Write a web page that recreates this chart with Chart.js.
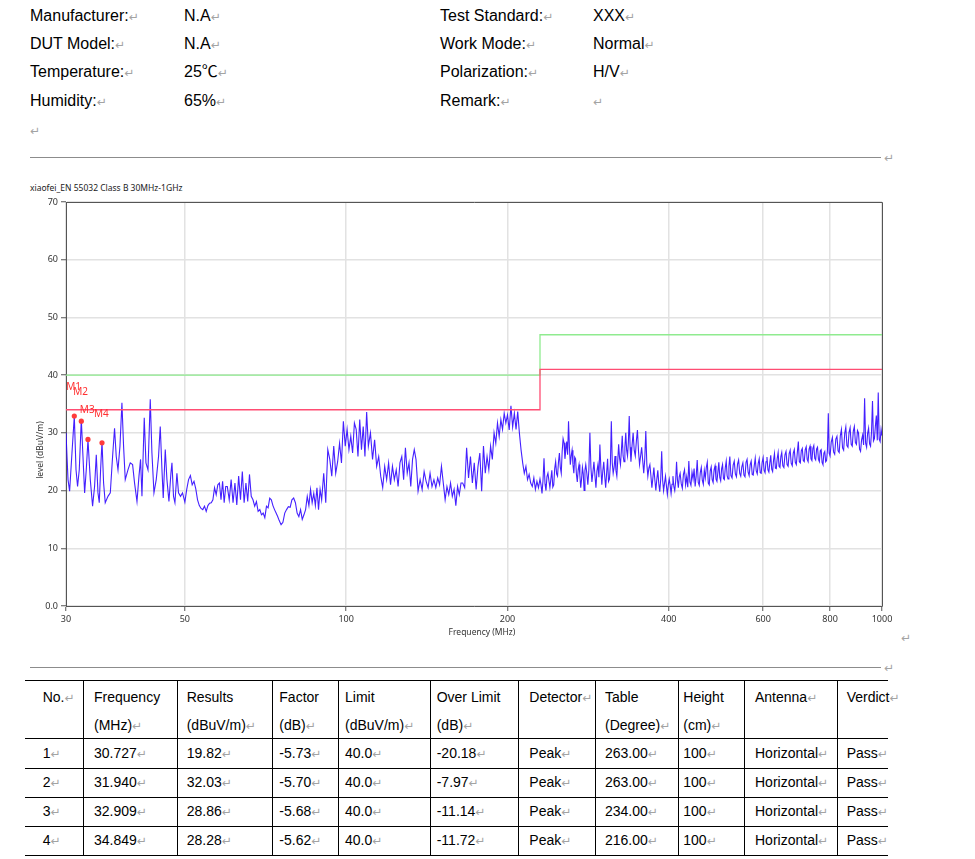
<!DOCTYPE html>
<html>
<head>
<meta charset="utf-8">
<script src="https://cdn.jsdelivr.net/npm/chart.js@4.4.1/dist/chart.umd.min.js"></script>
<style>
  html, body { margin:0; padding:0; background:#fff; }
  body { width:975px; height:859px; position:relative; overflow:hidden;
         font-family:"Liberation Sans", Arial, "Noto Sans CJK SC", sans-serif; color:#000; }
  .t { position:absolute; white-space:nowrap; font-size:16px; line-height:18px; }
  .tb { position:absolute; white-space:nowrap; font-size:14px; line-height:16px; }
  .pm { color:#a3a3a3; font-family:"DejaVu Sans", sans-serif; font-size:12px; }
  .hr { position:absolute; height:1px; background:#8c8c8c; }
  .ln { position:absolute; background:#000; }
  #title { position:absolute; left:30px; top:182px; font-family:"Noto Sans", sans-serif; font-size:8.5px; line-height:12px; color:#222; white-space:nowrap; }
  canvas { position:absolute; left:0; top:178px; }
</style>
</head>
<body>
<div id="doc"></div>
<div id="title">xiaofei_EN 55032 Class B 30MHz-1GHz</div>
<canvas id="c" width="900" height="470" style="width:900px;height:470px"></canvas>
<script>
// ---------- header info ----------
const infoLabelsL = ['Manufacturer:', 'DUT Model:', 'Temperature:', 'Humidity:'];
const infoValuesL = ['N.A', 'N.A', '25℃', '65%'];
const infoLabelsR = ['Test Standard:', 'Work Mode:', 'Polarization:', 'Remark:'];
const infoValuesR = ['XXX', 'Normal', 'H/V', ''];
const infoRowY = [16, 44, 72, 101];

// ---------- table ----------
const tableHead1 = ['No.↵', 'Frequency', 'Results', 'Factor', 'Limit', 'Over Limit', 'Detector↵', 'Table', 'Height', 'Antenna↵', 'Verdict↵'];
const tableHead2 = ['', '(MHz)↵', '(dBuV/m)↵', '(dB)↵', '(dBuV/m)↵', '(dB)↵', '', '(Degree)↵', '(cm)↵', '', ''];
const colNo = ['1', '2', '3', '4'];
const colFreq = ['30.727', '31.940', '32.909', '34.849'];
const colResult = ['19.82', '32.03', '28.86', '28.28'];
const colFactor = ['-5.73', '-5.70', '-5.68', '-5.62'];
const colLimit = ['40.0', '40.0', '40.0', '40.0'];
const colOver = ['-20.18', '-7.97', '-11.14', '-11.72'];
const colDetector = ['Peak', 'Peak', 'Peak', 'Peak'];
const colTable = ['263.00', '263.00', '234.00', '216.00'];
const colHeight = ['100', '100', '100', '100'];
const colAntenna = ['Horizontal', 'Horizontal', 'Horizontal', 'Horizontal'];
const colVerdict = ['Pass', 'Pass', 'Pass', 'Pass'];

// ---------- chart data ----------
const xTicks = [30, 50, 100, 200, 400, 600, 800, 1000];
const yTicks = [0, 10, 20, 30, 40, 50, 60, 70];
const limitFreqs = [30, 230, 230, 1000];
const redLimit = [34, 34, 41, 41];
const greenLimit = [40, 40, 47, 47];
const markerNames = ['M1', 'M2', 'M3', 'M4'];
const markerFreqs = [31.09, 32.04, 32.97, 35.02];
const markerLevels = [32.9, 32.03, 28.86, 28.28];

const fA = [30.00,30.26,30.47,30.78,31.09,31.32,31.53,31.76,32.04,32.27,32.50,32.73,32.97,33.30,33.63,33.92,34.17,34.42,34.61,34.81,35.02,35.26,35.51,35.93,36.29,36.65,36.96,37.23,37.51,37.83,38.15,38.42,38.70,39.15,39.54,39.94,40.28,40.70,41.05,41.33,41.58,41.99,42.30,42.67,43.09,43.40,43.78,44.21,44.65,44.98,45.31,45.56,45.96,46.29,46.69,47.09,47.30,47.62,47.91,48.32,48.65,49.07,49.50];
const lA = [30.0,21.9,19.9,26.5,32.9,23.6,20.7,23.6,32.3,25.9,19.6,23.6,28.8,21.9,17.3,20.7,26.2,19.6,17.9,23.6,28.5,21.3,17.9,19.0,19.6,25.9,30.8,25.9,23.6,27.7,35.2,27.7,21.9,23.6,24.8,24.5,21.3,18.1,22.5,25.4,19.0,32.6,24.8,23.6,35.8,26.5,19.6,21.9,25.9,31.1,23.6,18.7,27.1,21.9,18.1,23.0,24.8,19.0,17.9,23.0,19.6,19.0,19.6];

const fB1 = [50.0,50.4,50.8,51.2,51.6,52.0,52.4,52.8,53.2,53.6,54.0,54.4,54.8,55.2,55.6,56.0,56.4,56.8,57.2,57.6,58.0,58.4,58.8,59.2,59.6];
const lB1 = [18.0,20.2,21.9,22.6,21.0,21.6,20.3,18.4,17.4,16.9,16.7,17.3,16.4,17.4,17.8,17.9,18.4,20.5,19.3,21.0,21.3,18.4,21.6,17.9,20.7];
const fB2 = [60.0,60.5,61.0,61.5,62.0,62.5,63.0,63.5,64.0,64.5,65.0,65.5,66.0,66.5,67.0,67.5,68.0,68.5,69.0,69.5,70.0,70.5,71.0,71.5,72.0,72.5,73.0,73.5,74.0,74.5];
const lB2 = [20.7,18.4,21.9,17.9,21.3,17.5,22.5,18.4,23.3,17.9,21.3,18.1,22.8,19.0,18.4,17.3,18.1,16.4,16.7,15.8,16.1,15.3,17.3,17.0,18.7,18.4,17.4,16.7,16.1,15.5];
const fB3 = [75.0,75.6,76.2,76.8,77.4,78.0,78.6,79.2,79.8,80.4,81.0,81.6,82.2,82.8,83.4,84.0,84.6,85.2,85.8,86.4,87.0,87.6,88.2,88.8,89.4];
const lB3 = [14.8,14.1,14.5,16.1,16.7,17.2,17.1,18.4,18.7,17.9,16.1,15.5,16.7,15.0,15.8,16.7,19.0,17.4,20.2,17.9,19.5,17.4,20.5,16.7,20.2];
const fB4 = [90.0,90.8,91.6,92.4,93.2,94.0,94.8,95.6,96.4,97.2,98.0,98.8,99.6,100.4,101.2,102.0,102.8,103.6,104.4,105.2,106.0,106.8,107.6,108.4,109.2];
const lB4 = [18.4,23.0,17.9,27.1,25.4,22.5,27.7,23.0,25.0,28.2,24.8,32.0,27.7,30.6,27.1,29.4,26.5,31.7,30.6,25.9,32.3,27.1,31.1,25.9,33.6];
const fB5 = [110,111,112,113,114,115,116,117,118,119,120,121,122,123,124,125,126,127,128,129,130,131,132,133,134];
const lB5 = [27.7,30.0,25.4,28.8,24.2,25.9,22.5,20.5,24.2,21.9,24.8,21.0,24.2,21.9,23.6,20.7,24.8,25.9,21.9,27.4,23.0,24.8,20.7,25.4,27.1];
const fB6 = [135.0,136.2,137.4,138.6,139.8,141.0,142.2,143.4,144.6,145.8,147.0,148.2,149.4,150.6,151.8,153.0,154.2,155.4,156.6,157.8,159.0,160.2,161.4,162.6,163.8];
const lB6 = [25.4,19.9,21.9,20.2,23.3,21.6,20.5,23.0,20.7,21.9,20.5,22.2,21.0,24.2,21.3,18.4,20.7,19.3,21.3,19.0,20.2,17.4,20.7,19.3,21.3];
const fB7 = [165.0,166.4,167.8,169.2,170.6,172.0,173.4,174.8,176.2,177.6,179.0,180.4,181.8,183.2,184.6,186.0,187.4,188.8,190.2,191.6,193.0,194.4,195.8,197.2,198.6];
const lB7 = [21.3,20.5,27.4,22.2,25.9,21.3,24.8,20.2,24.2,26.5,19.9,27.7,23.0,25.9,23.6,27.7,25.4,30.0,28.2,31.7,29.4,32.3,30.6,33.4,31.7];
const fB8 = [200.0,201.5,203.0,204.5,206.0,207.5,209.0,210.5,212.0,213.5,215.0,216.5,218.0,219.5,221.0,222.5,224.0,225.5,227.0,228.5];
const lB8 = [33.1,30.5,34.7,31.0,33.4,30.6,33.7,30.0,27.1,24.8,23.0,24.2,21.9,22.8,21.3,20.7,22.2,20.2,21.6,20.5];

const fC1 = [230,231,232,233,234,235,236,237,238,239,240,241,242,243,244,245,246,247,248,249,250,251,252,253,254,255,256,257,258,259,260,261,262,263,264,265,266,267,268,269,270,271,272,273,274,275,276,277,278,279];
const lC1 = [22.0,21.0,19.5,21.8,25.6,21.2,20.0,22.4,23.0,21.7,20.5,22.0,23.5,20.6,21.0,23.8,25.0,22.9,22.5,24.9,26.5,24.0,23.0,26.8,29.0,28.3,25.5,27.0,28.5,26.2,32.0,27.5,24.5,26.0,27.0,24.5,23.0,25.8,25.5,22.8,21.5,23.6,24.5,22.6,20.5,22.0,24.0,22.9,20.0,23.5];
const fC2 = [280,281.25,282.5,283.75,285,286.25,287.5,288.75,290,291.25,292.5,293.75,295,296.25,297.5,298.75,300,301.25,302.5,303.75,305,306.25,307.5,308.75,310,311.25,312.5,313.75,315,316.25,317.5,318.75,320,321.25,322.5,323.75,325,326.25,327.5,328.75,330,331.25,332.5,333.75,335,336.25,337.5,338.75];
const lC2 = [24.5,23.0,21.0,23.6,30.0,24.0,21.5,23.2,25.0,22.6,20.5,23.4,24.5,22.3,28.0,24.0,21.0,23.4,25.0,22.5,20.5,23.0,25.5,21.6,22.0,24.6,32.0,24.8,23.0,24.0,26.0,23.5,22.5,25.2,28.0,25.6,24.5,26.8,29.5,26.0,25.0,27.5,30.0,27.0,26.0,28.4,32.9,27.5];
const fC3 = [340,341.6,343.2,344.8,346.4,348,349.6,351.2,352.8,354.4,356,357.6,359.2,360.8,362.4,364,365.6,367.2,368.8,370.4,372,373.6,375.2,376.8,378.4,380,381.6,383.2,384.8,386.4,388,389.6,391.2,392.8,394.4,396,397.6,399.2,400.8,402.4,404,405.6,407.2,408.8,410.4,412,413.6,415.2,416.8,418.4];
const lC3 = [25.0,27.8,30.0,27.0,26.0,28.6,30.5,26.8,24.5,26.0,27.5,25.2,23.0,25.5,30.3,24.6,22.5,23.9,24.5,22.6,20.5,22.2,24.0,21.8,20.0,22.0,23.5,21.2,19.8,22.0,26.8,21.8,20.0,21.3,22.5,20.8,19.3,21.0,22.0,20.9,19.5,21.1,22.5,20.7,20.0,21.6,25.0,21.9,20.5,22.4];
const fC4 = [420,422,424,426,428,430,432,434,436,438,440,442,444,446,448,450,452,454,456,458,460,462,464,466,468,470,472,474,476,478,480,482,484,486,488,490,492,494,496,498,500,502,504,506,508,510,512,514,516,518];
const lC4 = [23.0,21.2,20.4,22.8,23.6,21.0,22.4,20.6,25.1,21.5,20.9,23.2,22.0,23.8,20.7,22.5,25.3,21.4,20.9,23.1,24.0,21.8,21.1,23.5,22.2,24.0,24.9,21.3,21.0,23.4,24.1,21.9,21.4,23.6,24.3,22.0,21.6,23.2,24.9,22.3,21.7,23.8,24.5,22.1,21.9,24.0,25.1,22.6,22.0,24.2];
const fC5 = [520,522.5,525,527.5,530,532.5,535,537.5,540,542.5,545,547.5,550,552.5,555,557.5,560,562.5,565,567.5,570,572.5,575,577.5,580,582.5,585,587.5,590,592.5,595,597.5,600,602.5,605,607.5,610,612.5,615,617.5,620,622.5,625,627.5,630,632.5,635,637.5,640,642.5,645,647.5];
const lC5 = [25.9,22.6,22.2,24.4,25.1,22.9,22.4,24.6,25.3,23.0,22.5,24.1,24.8,22.7,22.4,24.9,25.4,23.2,22.6,24.5,25.1,22.8,22.7,24.3,25.6,23.4,22.9,24.7,25.5,23.1,23.0,24.9,25.7,23.5,23.1,25.0,25.8,23.6,23.2,24.8,26.1,23.7,23.3,25.3,26.4,23.9,23.8,25.6,26.6,24.2,24.0,25.9];
const fC6 = [650,653,656,659,662,665,668,671,674,677,680,683,686,689,692,695,698,701,704,707,710,713,716,719,722,725,728,731,734,737,740,743,746,749,752,755,758,761,764,767,770,773,776,779,782,785,788,791,794,797];
const lC6 = [26.6,24.3,24.0,26.2,26.8,24.5,24.2,26.4,27.0,24.7,24.3,26.5,27.1,24.9,24.5,26.6,28.5,25.0,24.8,26.9,27.3,25.2,25.0,27.1,27.6,25.4,25.0,27.2,27.7,25.5,25.2,27.3,27.8,25.6,25.3,27.2,27.5,25.4,25.0,26.9,27.1,24.9,24.5,26.5,26.8,25.0,25.2,27.0,33.4,26.5];
const fC7 = [800,804,808,812,816,820,824,828,832,836,840,844,848,852,856,860,864,868,872,876,880,884,888,892,896,900,904,908,912,916,920,924,928,932,936,940,944,948,952,956,960,964,968,972,976,980,984,988,992,996,1000];
const lC7 = [26.0,28.4,29.2,26.7,26.3,28.9,29.4,26.9,26.6,29.5,30.6,27.4,27.0,29.9,31.0,27.8,27.5,30.1,30.9,28.0,27.7,30.3,31.1,28.3,28.0,30.4,30.0,27.2,26.8,28.8,29.6,27.9,36.0,28.2,27.5,29.9,30.8,28.1,27.7,30.2,35.5,28.6,29.0,31.2,33.0,28.7,37.0,28.9,28.5,30.6,29.5];

// ---------- build document text ----------
const doc = document.getElementById('doc');
function addText(cls, x, top, txt) {
  const d = document.createElement('div');
  d.className = cls;
  d.style.left = x + 'px';
  d.style.top = top + 'px';
  const parts = txt.split('↵');
  d.appendChild(document.createTextNode(parts[0]));
  if (parts.length > 1) {
    const s = document.createElement('span');
    s.className = 'pm'; s.textContent = '↵';
    d.appendChild(s);
  }
  doc.appendChild(d);
}
function addMark(x, top) { addText('t', x, top, '↵'); }
function addLine(cls, x, y, w, h) {
  const d = document.createElement('div');
  d.className = cls;
  d.style.left = x + 'px'; d.style.top = y + 'px';
  d.style.width = w + 'px'; d.style.height = h + 'px';
  doc.appendChild(d);
}

infoRowY.forEach((cy, i) => {
  addText('t', 30, cy - 9, infoLabelsL[i] + '↵');
  addText('t', 184, cy - 9, infoValuesL[i] + '↵');
  addText('t', 440, cy - 9, infoLabelsR[i] + '↵');
  addText('t', 593, cy - 9, infoValuesR[i] + '↵');
});
addMark(30, 121);
addLine('hr', 30, 157, 851, 1);
addMark(884, 148);
addMark(901, 628);
addLine('hr', 30, 667, 851, 1);
addMark(884, 658);

const colX = [42.7, 94, 186.7, 279.3, 345, 436.7, 529.3, 605, 683.3, 755, 846.7];
const vLines = [83.3, 176.7, 271.7, 338.3, 430, 518.3, 595, 678.3, 744.3, 836.7];
const hLines = [680, 738.3, 767.7, 796.7, 825.7, 855];
hLines.forEach(y => addLine('ln', 25, Math.round(y), 863, 1));
vLines.forEach(x => addLine('ln', Math.round(x), 680, 1, 175));
const headY1 = 697, headY2 = 725;
tableHead1.forEach((h, i) => { if (h) addText('tb', colX[i], headY1 - 8, h); });
tableHead2.forEach((h, i) => { if (h) addText('tb', colX[i], headY2 - 8, h); });
const cols = [colNo, colFreq, colResult, colFactor, colLimit, colOver, colDetector, colTable, colHeight, colAntenna, colVerdict];
for (let r = 0; r < 4; r++) {
  const cy = (hLines[r + 1] + hLines[r + 2]) / 2;
  cols.forEach((c, i) => addText('tb', colX[i], cy - 8, c[r] + '↵'));
}

// ---------- chart ----------
function zip(f, l) { return f.map((v, i) => ({ x: v, y: l[i] })); }
const trace = [].concat(
  zip(fA, lA), zip(fB1, lB1), zip(fB2, lB2), zip(fB3, lB3), zip(fB4, lB4),
  zip(fB5, lB5), zip(fB6, lB6), zip(fB7, lB7), zip(fB8, lB8),
  zip(fC1, lC1), zip(fC2, lC2), zip(fC3, lC3), zip(fC4, lC4), zip(fC5, lC5),
  zip(fC6, lC6), zip(fC7, lC7)
);

Chart.defaults.font.family = '"Noto Sans", "Liberation Sans", sans-serif';

const overlay = {
  id: 'overlay',
  afterDatasetsDraw(chart) {
    const { ctx, chartArea: a, scales: { x, y } } = chart;
    ctx.save();
    ctx.strokeStyle = '#555';
    ctx.lineWidth = 1;
    ctx.beginPath();
    ctx.moveTo(Math.round(a.left) + 0.5, Math.round(a.top) + 0.5);
    ctx.lineTo(Math.round(a.right) + 0.5, Math.round(a.top) + 0.5);
    ctx.lineTo(Math.round(a.right) + 0.5, Math.round(a.bottom) + 0.5);
    ctx.stroke();
    ctx.fillStyle = '#ff3030';
    ctx.font = '10px "Noto Sans", sans-serif';
    ctx.textAlign = 'center';
    ctx.textBaseline = 'middle';
    markerNames.forEach((n, i) => {
      const px = x.getPixelForValue(markerFreqs[i]);
      const py = y.getPixelForValue(markerLevels[i]);
      ctx.fillText(n, px - 0.7, py - 29);
    });
    ctx.fillStyle = '#333';
    ctx.font = '8.5px "Noto Sans", sans-serif';
    ctx.fillText('Frequency (MHz)', (a.left + a.right) / 2 + 8, a.bottom + 27);
    ctx.translate(a.left - 25.5, a.top + 248);
    ctx.rotate(-Math.PI / 2);
    ctx.fillText('level (dBuV/m)', 0, 0);
    ctx.restore();
  }
};

const gridCfg = { color: '#e2e2e2', lineWidth: 1.5, tickLength: 5, tickColor: '#555', tickWidth: 1 };
const borderCfg = { display: true, color: '#555', width: 1 };

new Chart(document.getElementById('c'), {
  type: 'line',
  data: {
    datasets: [
      { label: 'markers', type: 'scatter', data: zip(markerFreqs, markerLevels), showLine: false,
        pointRadius: 2.6, pointBackgroundColor: '#ff3b3b', pointBorderWidth: 0, order: 0 },
      { label: 'limit1', data: zip(limitFreqs, redLimit), borderColor: '#ff4d73', borderWidth: 1.3,
        pointRadius: 0, order: 1 },
      { label: 'limit2', data: zip(limitFreqs, greenLimit), borderColor: '#8feb8f', borderWidth: 1.3,
        pointRadius: 0, order: 2 },
      { label: 'trace', data: trace, borderColor: 'rgba(48,8,255,0.9)', borderWidth: 1.1,
        pointRadius: 0, order: 3 }
    ]
  },
  options: {
    responsive: false,
    animation: false,
    layout: { padding: { top: 24, right: 18, bottom: 0, left: 0 } },
    plugins: { legend: { display: false }, tooltip: { enabled: false } },
    scales: {
      x: {
        type: 'logarithmic', min: 30, max: 1000,
        afterBuildTicks: s => { s.ticks = xTicks.map(v => ({ value: v })); },
        afterFit: s => { s.height = 42; },
        ticks: { autoSkip: false, maxRotation: 0, color: '#333', font: { size: 9 }, padding: 3,
                 callback: v => String(v) },
        grid: gridCfg, border: borderCfg
      },
      y: {
        min: 0, max: 70,
        afterBuildTicks: s => { s.ticks = yTicks.map(v => ({ value: v })); },
        afterFit: s => { s.width = 66; },
        ticks: { color: '#333', font: { size: 9 }, padding: 3,
                 callback: v => (v === 0 ? '0.0' : String(v)) },
        grid: gridCfg, border: borderCfg
      }
    }
  },
  plugins: [overlay]
});
</script>
</body>
</html>
